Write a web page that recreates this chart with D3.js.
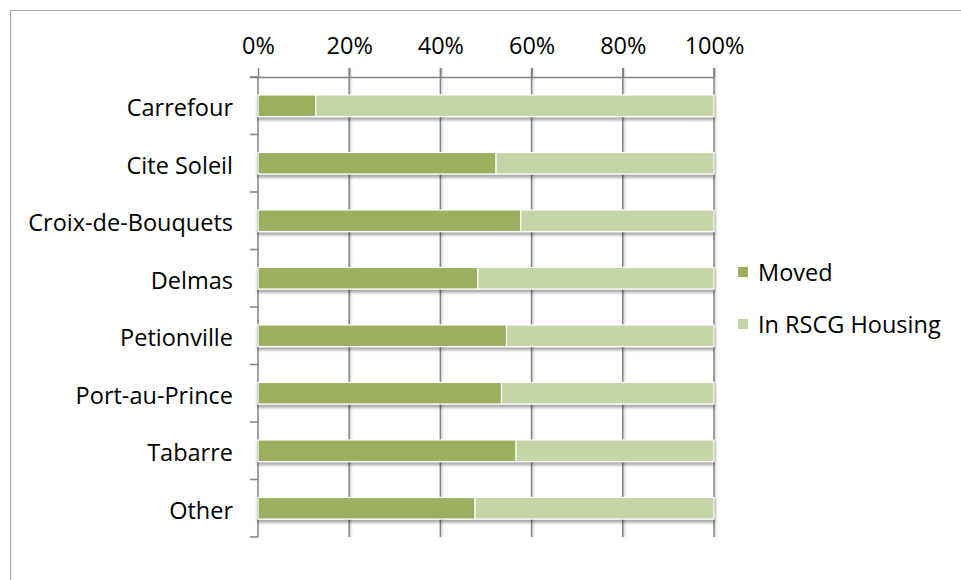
<!DOCTYPE html>
<html>
<head>
<meta charset="utf-8">
<script src="https://cdn.jsdelivr.net/npm/d3@7"></script>
<style>
  html, body { margin: 0; padding: 0; background: #fff; }
  svg { display: block; }
  text { font-family: "Open Sans", "Noto Sans", sans-serif; fill: #000; }
</style>
</head>
<body>
<svg id="chart" width="961" height="580"></svg>
<script>
// Share of households per commune that moved vs. still in RSCG housing
const categories = ["Carrefour", "Cite Soleil", "Croix-de-Bouquets", "Delmas",
                    "Petionville", "Port-au-Prince", "Tabarre", "Other"];
const moved      = [0.127, 0.522, 0.576, 0.482, 0.545, 0.534, 0.566, 0.476];
const inHousing  = moved.map(v => 1 - v);
const seriesNames = ["Moved", "In RSCG Housing"];
const seriesColors = ["#9caf5e", "#c6d5a7"];
const tickValues = [0, 0.2, 0.4, 0.6, 0.8, 1.0];

const FONT_SIZE = 23.5;
const AXIS_GREY = "#828282";
const svg = d3.select("#chart");

// outer chart frame (runs off the right and bottom edges)
svg.append("rect")
  .attr("x", 10.5).attr("y", 10.5)
  .attr("width", 1000).attr("height", 1000)
  .attr("fill", "none").attr("stroke", "#a6a6a6").attr("stroke-width", 1);

const plot = { left: 258, right: 714, top: 77, bottom: 537 };

const x = d3.scaleLinear().domain([0, 1]).range([plot.left, plot.right]);
const y = d3.scaleBand().domain(categories)
  .range([plot.top, plot.bottom]).paddingInner(0.625).paddingOuter(0.3125);

const defs = svg.append("defs");
const shadow = defs.append("filter").attr("id", "shadow")
  .attr("x", "-5%").attr("y", "-40%").attr("width", "110%").attr("height", "200%");
shadow.append("feDropShadow")
  .attr("dx", 0).attr("dy", 3).attr("stdDeviation", 1.8)
  .attr("flood-color", "#000").attr("flood-opacity", 0.35);

// soft shadow for the gridlines; user-space region since a vertical line has zero bbox width
const gridShadow = defs.append("filter").attr("id", "gshadow")
  .attr("filterUnits", "userSpaceOnUse")
  .attr("x", 0).attr("y", 0).attr("width", 961).attr("height", 580);
gridShadow.append("feDropShadow")
  .attr("dx", 1).attr("dy", 0).attr("stdDeviation", 0.8)
  .attr("flood-color", "#000").attr("flood-opacity", 0.25);

// vertical gridlines (with tick stubs above the top axis)
svg.append("g").attr("filter", "url(#gshadow)")
  .selectAll("line")
  .data(tickValues.slice(1))
  .join("line")
  .attr("x1", d => x(d)).attr("x2", d => x(d))
  .attr("y1", plot.top - 9).attr("y2", plot.bottom)
  .attr("stroke", AXIS_GREY).attr("stroke-width", 1.5);

// top value axis
const xAxis = d3.axisTop(x).tickValues(tickValues)
  .tickFormat(d3.format(".0%")).tickSize(9).tickPadding(14).tickSizeOuter(0);
const gx = svg.append("g").attr("transform", `translate(0,${plot.top})`).call(xAxis);
gx.select(".domain").attr("stroke", AXIS_GREY).attr("stroke-width", 1.5)
  .attr("d", `M${plot.left - 8},0.5H${plot.right}`);
gx.selectAll(".tick line").attr("stroke", AXIS_GREY).attr("stroke-width", 1.5);
gx.selectAll(".tick text").attr("font-size", FONT_SIZE).attr("fill", "#000")
  .style("font-family", "'Open Sans', 'Noto Sans', sans-serif");

// left category axis: line plus tick marks at band boundaries
const ga = svg.append("g");
ga.append("line")
  .attr("x1", plot.left).attr("x2", plot.left)
  .attr("y1", plot.top).attr("y2", plot.bottom)
  .attr("stroke", AXIS_GREY).attr("stroke-width", 1.5);
const boundaries = categories.map(c => y(c) - y.step() * y.paddingOuter()).concat([plot.bottom]);
ga.selectAll("line.tk").data(boundaries).join("line").attr("class", "tk")
  .attr("x1", plot.left - 8).attr("x2", plot.left)
  .attr("y1", d => d).attr("y2", d => d)
  .attr("stroke", AXIS_GREY).attr("stroke-width", 1.5);

// category labels
svg.append("g").selectAll("text")
  .data(categories)
  .join("text")
  .attr("x", 233)
  .attr("y", d => y(d) + y.bandwidth() / 2 + 10.5)
  .attr("text-anchor", "end")
  .attr("font-size", FONT_SIZE)
  .text(d => d);

// stacked bars
const rows = categories.map((c, i) => ({ cat: c, Moved: moved[i], "In RSCG Housing": inHousing[i] }));
const stacked = d3.stack().keys(seriesNames)(rows);

svg.append("g").attr("filter", "url(#shadow)")
  .selectAll("g")
  .data(stacked)
  .join("g")
  .attr("fill", (d, i) => seriesColors[i])
  .selectAll("rect")
  .data(d => d)
  .join("rect")
  .attr("x", d => x(d[0]))
  .attr("y", d => y(d.data.cat))
  .attr("width", d => x(d[1]) - x(d[0]))
  .attr("height", y.bandwidth())
  .attr("stroke", "#fff").attr("stroke-width", 1.2);

// legend
const legend = svg.append("g").attr("transform", "translate(738,267)");
const items = legend.selectAll("g").data(seriesNames).join("g")
  .attr("transform", (d, i) => `translate(0,${i * 52})`);
items.append("rect").attr("width", 10).attr("height", 10)
  .attr("fill", (d, i) => seriesColors[i]);
items.append("text").attr("x", 20).attr("y", 13.5).attr("font-size", FONT_SIZE).text(d => d);
</script>
</body>
</html>
